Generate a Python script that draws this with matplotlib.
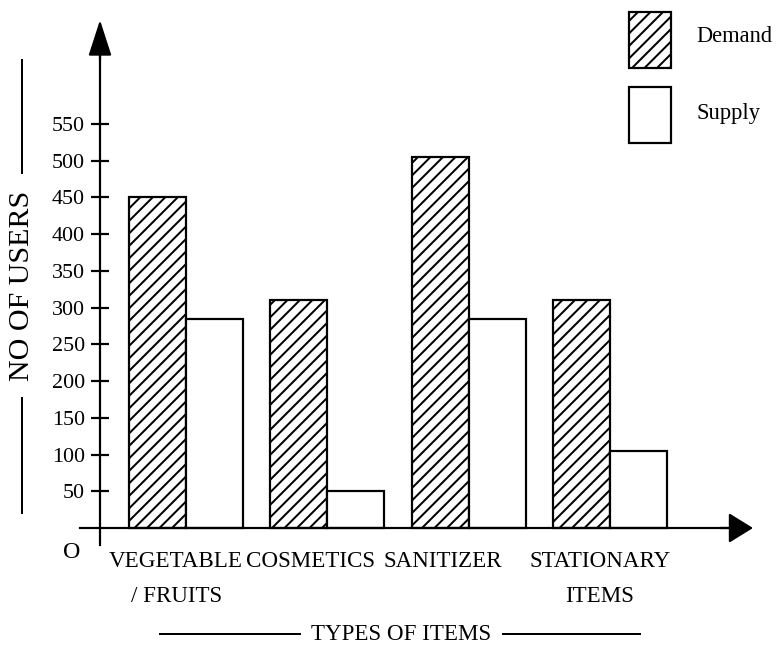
import matplotlib
matplotlib.use("Agg")
import matplotlib.pyplot as plt
from matplotlib.patches import Rectangle
from matplotlib.lines import Line2D

DPI = 150
W, H = 777, 645

categories = ["VEGETABLE\n/ FRUITS", "COSMETICS", "SANITIZER", "STATIONARY\nITEMS"]
demand = [450, 310, 505, 310]
supply = [285, 50, 285, 105]
yticks = [50, 100, 150, 200, 250, 300, 350, 400, 450, 500, 550]
label_shift = [-0.07, -0.12, -0.18, -0.07]


def pt(px):
    # pixels -> points at this dpi
    return px * 72 / DPI


def fx(px):
    return px / W


def fy(py):
    return 1 - py / H


plt.rcParams['font.family'] = ['Liberation Serif', 'DejaVu Serif']
plt.rcParams['hatch.linewidth'] = pt(2.0)
plt.rcParams['hatch.color'] = 'black'

fig = plt.figure(figsize=(W / DPI, H / DPI), dpi=DPI)
ax = fig.add_axes([0, 0, 1, 1])

# pixel layout of the reference: group spacing 141.3 px, 0.7345 px per user, axis at y=528
xs = 141.33
ys = 0.7345
ax.set_xlim(-186 / xs, (W - 186) / xs)
ax.set_ylim((528 - H) / ys, 528 / ys)
ax.patch.set_visible(False)

bw = 57 / xs
pos = list(range(len(categories)))
ax.bar([p - bw for p in pos], demand, bw, align='edge', facecolor='white',
       edgecolor='black', hatch='////', linewidth=pt(2.2), zorder=2)
ax.bar(pos, supply, bw, align='edge', facecolor='white',
       edgecolor='black', linewidth=pt(2.2), zorder=2)

yaxis_x = (100 - 186) / xs
for s in ['top', 'right']:
    ax.spines[s].set_visible(False)
ax.spines['left'].set_position(('data', yaxis_x))
ax.spines['bottom'].set_position(('data', 0))
ax.spines['left'].set_bounds((528 - 545) / ys, (528 - 45) / ys)
ax.spines['bottom'].set_bounds((80 - 186) / xs, (738 - 186) / xs)
for s in ['left', 'bottom']:
    ax.spines[s].set_linewidth(pt(2.2))
    ax.spines[s].set_zorder(3)

# arrow heads
ax.annotate('', xy=(yaxis_x, (528 - 20) / ys), xytext=(yaxis_x, (528 - 60) / ys),
            arrowprops=dict(arrowstyle='-|>,head_length=%f,head_width=%f' % (pt(31), pt(10)),
                            mutation_scale=1, color='black', lw=pt(2.2),
                            shrinkA=0, shrinkB=0))
ax.annotate('', xy=((753 - 186) / xs, 0), xytext=((720 - 186) / xs, 0),
            arrowprops=dict(arrowstyle='-|>,head_length=%f,head_width=%f' % (pt(21), pt(13)),
                            mutation_scale=1, color='black', lw=pt(2.2),
                            shrinkA=0, shrinkB=0))

ax.set_yticks(yticks)
ax.set_yticklabels([str(v) for v in yticks])
ax.tick_params(axis='y', direction='inout', length=pt(18), width=pt(2.2),
               pad=pt(6), labelsize=pt(22))
ax.set_xticks([p + s for p, s in zip(pos, label_shift)])
ax.set_xticklabels(categories, linespacing=1.9)
ax.tick_params(axis='x', length=0, pad=pt(23), labelsize=pt(23))

fig.text(fx(72), fy(552), "O", fontsize=pt(24), ha='center', va='center')

# y label with rules
fig.text(fx(22), fy(286), "NO OF USERS", rotation=90, fontsize=pt(30),
         ha='center', va='center')
fig.add_artist(Line2D([fx(22), fx(22)], [fy(60), fy(173)], color='black', lw=pt(2)))
fig.add_artist(Line2D([fx(22), fx(22)], [fy(398), fy(513)], color='black', lw=pt(2)))

# x label with rules
fig.text(fx(401), fy(634), "TYPES OF ITEMS", fontsize=pt(23), ha='center', va='center')
fig.add_artist(Line2D([fx(160), fx(300)], [fy(634), fy(634)], color='black', lw=pt(2)))
fig.add_artist(Line2D([fx(503), fx(640)], [fy(634), fy(634)], color='black', lw=pt(2)))

# legend
fig.add_artist(Rectangle((fx(629), fy(68)), fx(42), 56 / H, facecolor='white',
                         edgecolor='black', hatch='////', lw=pt(2.2)))
fig.add_artist(Rectangle((fx(629), fy(143)), fx(42), 56 / H, facecolor='white',
                         edgecolor='black', lw=pt(2.2)))
fig.text(fx(696), fy(36), "Demand", fontsize=pt(22.5), ha='left', va='center')
fig.text(fx(696), fy(114), "Supply", fontsize=pt(22.5), ha='left', va='center')

fig.savefig("out.png", dpi=DPI)
